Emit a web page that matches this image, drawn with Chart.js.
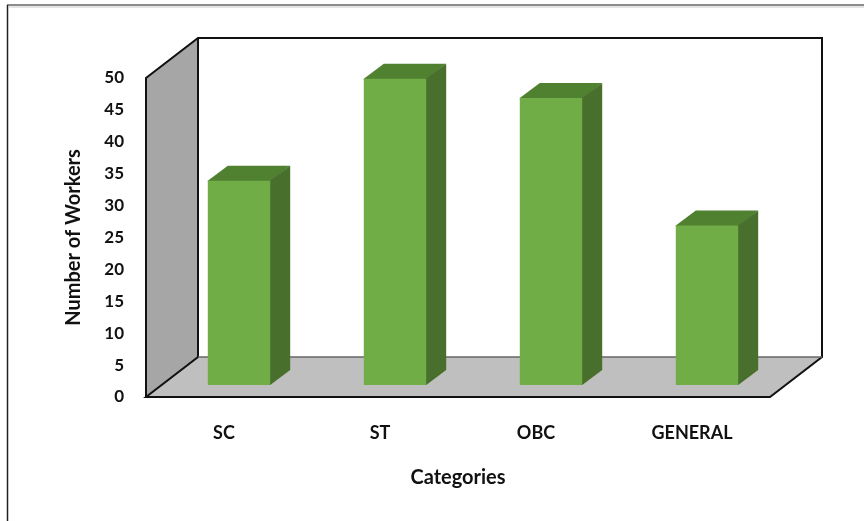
<!DOCTYPE html>
<html><head><meta charset="utf-8">
<style>html,body{margin:0;padding:0;background:#fff}#w{position:absolute;left:0;top:0;width:864px;height:521px}</style>
<script src="https://cdn.jsdelivr.net/npm/chart.js@4"></script>
</head><body><div id="w"><canvas id="c" width="864" height="521"></canvas></div>
<script>
const categories=['SC','ST','OBC','GENERAL'];
const workers=[32,48,45,25];
const yTicks=[0,5,10,15,20,25,30,35,40,45,50];
const FONT='Lato,"Open Sans",sans-serif';
const WALL={dx:52,dy:-40}, BAR_SHIFT={dx:15,dy:-12}, SIDE={dx:20,dy:-15};
const box3d={
  id:'box3d',
  beforeDatasetsDraw(ch){
    const {ctx}=ch, x=ch.scales.x, y=ch.scales.y;
    const L=x.left,R=x.right,B=y.getPixelForValue(0),T=y.getPixelForValue(50);
    const poly=(pts,fill)=>{ctx.beginPath();pts.forEach((p,i)=>i?ctx.lineTo(p[0],p[1]):ctx.moveTo(p[0],p[1]));ctx.closePath();ctx.fillStyle=fill;ctx.fill();};
    const d=WALL;
    poly([[L,B],[L+d.dx,B+d.dy],[L+d.dx,T+d.dy],[L,T]],'#a6a6a6');
    poly([[L,B],[R,B],[R+d.dx,B+d.dy],[L+d.dx,B+d.dy]],'#bfbfbf');
    ctx.save();ctx.strokeStyle='#111';ctx.lineWidth=2;ctx.lineJoin='miter';
    ctx.beginPath();
    ctx.moveTo(L,B);ctx.lineTo(L,T);ctx.lineTo(L+d.dx,T+d.dy);ctx.lineTo(R+d.dx,T+d.dy);ctx.lineTo(R+d.dx,B+d.dy);ctx.lineTo(R,B);ctx.lineTo(L,B);ctx.lineTo(L+d.dx,B+d.dy);ctx.lineTo(L+d.dx,T+d.dy);
    ctx.stroke();
    ctx.strokeStyle='#666';ctx.lineWidth=1.5;
    ctx.beginPath();ctx.moveTo(L+d.dx,B+d.dy);ctx.lineTo(R+d.dx,B+d.dy);ctx.stroke();
    ctx.restore();
  },
  beforeDatasetDraw(ch){
    const {ctx}=ch;
    const poly=(pts,fill)=>{ctx.beginPath();pts.forEach((p,i)=>i?ctx.lineTo(p[0],p[1]):ctx.moveTo(p[0],p[1]));ctx.closePath();ctx.fillStyle=fill;ctx.fill();};
    const s=BAR_SHIFT,e=SIDE;
    ch.getDatasetMeta(0).data.forEach(b=>{
      const h=b.width/2,l=b.x-h+s.dx,r=b.x+h+s.dx,t=b.y+s.dy,bot=b.base+s.dy;
      poly([[l,t+1],[l,t],[l+e.dx,t+e.dy],[r+e.dx,t+e.dy],[r,t+1]],'#4f8130');
      poly([[r-2,t],[r,t],[r+e.dx,t+e.dy],[r+e.dx,bot+e.dy],[r,bot],[r-2,bot]],'#48702c');
    });
    ctx.save();ctx.translate(s.dx,s.dy);
  },
  afterDatasetDraw(ch){ch.ctx.restore();},
  afterDraw(ch){
    const {ctx}=ch;ctx.save();
    ctx.lineWidth=1.5;
    ctx.strokeStyle='#ddd';ctx.beginPath();ctx.moveTo(9,7);ctx.lineTo(864,7);ctx.stroke();
    ctx.strokeStyle='#666';ctx.beginPath();ctx.moveTo(7,5);ctx.lineTo(864,5);ctx.stroke();
    ctx.strokeStyle='#222';ctx.beginPath();ctx.moveTo(7.5,521);ctx.lineTo(7.5,5);ctx.stroke();
    ctx.restore();
  }
};
new Chart(document.getElementById('c'),{
  type:'bar',
  data:{labels:categories,datasets:[{data:workers,backgroundColor:'#70ad47',barPercentage:0.4,categoryPercentage:1}]},
  plugins:[box3d],
  options:{
    responsive:false,animation:false,devicePixelRatio:1,
    layout:{padding:{left:0,right:94,top:78,bottom:0}},
    plugins:{legend:{display:false},tooltip:{enabled:false}},
    scales:{
      x:{position:'bottom',grid:{display:false,drawTicks:false},border:{display:false},
        ticks:{color:'#111',padding:25,font:{family:FONT,size:18,weight:'700'}},
        title:{display:true,text:'Categories',color:'#111',padding:{top:0,bottom:31},font:{family:FONT,size:20,weight:'700'}},
        afterFit(a){a.height=124;}},
      y:{min:0,max:50,afterBuildTicks(a){a.ticks=yTicks.map(v=>({value:v}));},
        grid:{display:false,drawTicks:false},border:{display:false},
        ticks:{color:'#111',padding:22,font:{family:FONT,size:17,weight:'700'}},
        title:{display:true,text:'Number of Workers',color:'#111',padding:{top:62,bottom:0},font:{family:FONT,size:20,weight:'700'}},
        afterFit(a){a.width=146;}}
    }
  }
});
</script></body></html>
